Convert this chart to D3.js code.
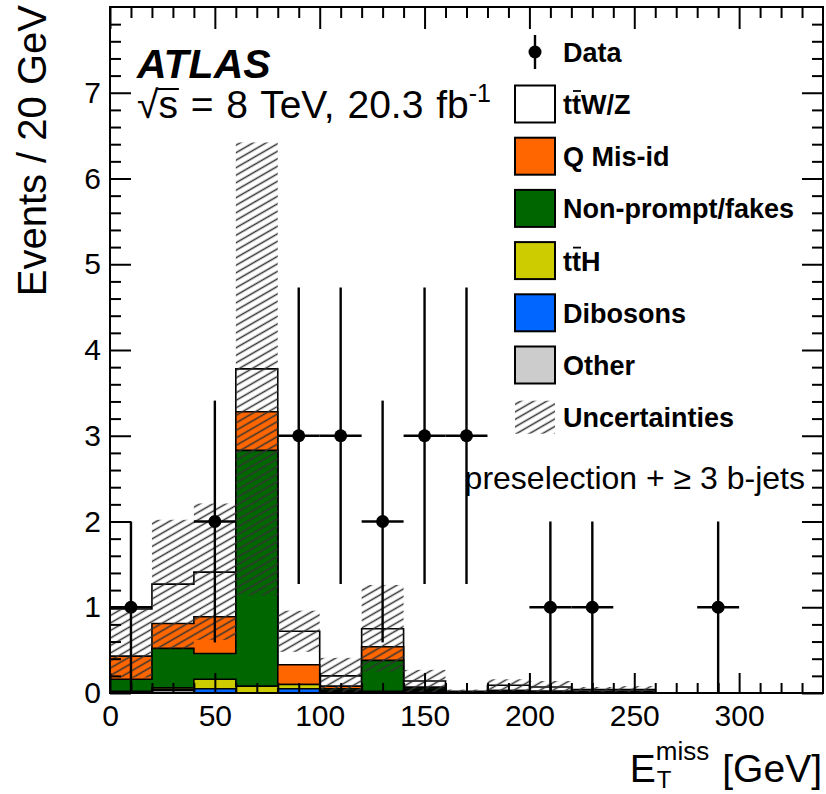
<!DOCTYPE html>
<html><head><meta charset="utf-8">
<script src="https://cdn.jsdelivr.net/npm/d3@7"></script>
<style>
body{margin:0;background:#fff;}
svg text{font-family:"Liberation Sans",Arial,Helvetica,sans-serif;fill:#000;}
</style></head><body>
<svg id="chart" width="826" height="794"></svg>
<script>
// E_T^miss distribution, 20 GeV bins (lower edges)
const binLow = [0,20,40,60,80,100,120,140,160,180,200,220,240,260,280,300,320];
const binWidth = 20;

// Expected events per bin, by process (stacked bottom to top)
const other     = [0.01,0.03,0.00,0.00,0.00,0.02,0.01,0.02,0.01,0.01,0.01,0.01,0.01,0,0,0,0];
const dibosons  = [0.00,0.01,0.05,0.00,0.05,0.00,0.00,0.01,0.00,0.00,0.00,0.00,0.00,0,0,0,0];
const ttH       = [0.01,0.02,0.11,0.08,0.05,0.01,0.01,0.01,0.00,0.00,0.00,0.00,0.00,0,0,0,0];
const nonPrompt = [0.14,0.46,0.30,2.75,0.00,0.02,0.36,0.02,0.00,0.02,0.01,0.01,0.01,0,0,0,0];
const qMisId    = [0.27,0.29,0.43,0.45,0.23,0.03,0.16,0.01,0.00,0.00,0.00,0.00,0.00,0,0,0,0];
const ttWZ      = [0.55,0.46,0.52,0.50,0.39,0.12,0.21,0.07,0.01,0.06,0.05,0.02,0.02,0,0,0,0];

// Total uncertainty band (lower / upper edge)
const bandLow  = [0.18,0.52,0.62,1.14,0.48,0.00,0.25,0.01,0.00,0.02,0.00,0.00,0.00,0,0,0,0];
const bandHigh = [0.98,2.02,2.21,6.42,0.96,0.41,1.26,0.27,0.04,0.16,0.14,0.07,0.08,0,0,0,0];

// Observed events and their statistical errors
const dataCounts = [1,0,2,0,3,3,2,3,3,0,1,1,0,0,1,0,0];
const dataErr    = [1,0,1.41,0,1.73,1.73,1.41,1.73,1.73,0,1,1,0,0,1,0,0];

// Axis ticks
const xMajorTicks = [0,50,100,150,200,250,300];
const xMinorTicks = [10,20,30,40,60,70,80,90,110,120,130,140,160,170,180,190,210,220,230,240,260,270,280,290,310,320,330];
const yMajorTicks = [0,1,2,3,4,5,6,7];
const yMinorTicks = [0.2,0.4,0.6,0.8,1.2,1.4,1.6,1.8,2.2,2.4,2.6,2.8,3.2,3.4,3.6,3.8,4.2,4.4,4.6,4.8,5.2,5.4,5.6,5.8,6.2,6.4,6.6,6.8,7.2,7.4,7.6,7.8];

const layers = [
  {name:"Other",            values:other,     color:"#cccccc"},
  {name:"Dibosons",         values:dibosons,  color:"#0066ff"},
  {name:"ttH",              values:ttH,       color:"#cccc00"},
  {name:"Non-prompt/fakes", values:nonPrompt, color:"#006600"},
  {name:"Q Mis-id",         values:qMisId,    color:"#ff6600"},
  {name:"ttW/Z",            values:ttWZ,      color:"#ffffff"}
];

const svg = d3.select("#chart");
const plot = {left:110, right:823, top:7, bottom:693};
const x = d3.scaleLinear().domain([0,340]).range([plot.left, plot.right]);
const y = d3.scaleLinear().domain([0,8]).range([plot.bottom, plot.top]);

// hatch pattern for the uncertainty band
const defs = svg.append("defs");
const pat = defs.append("pattern").attr("id","hatch")
  .attr("patternUnits","userSpaceOnUse").attr("width",10).attr("height",6.5)
  .attr("patternTransform","rotate(-30)");
pat.append("line").attr("x1",0).attr("x2",10).attr("y1",3.25).attr("y2",3.25)
  .attr("stroke","#333").attr("stroke-width",1.5);

// cumulative stack
let running = binLow.map(()=>0);
const cumulative = layers.map(l => {
  running = running.map((v,i)=>v + l.values[i]);
  return running.slice();
});

function stepPath(vals){
  let p = `M${x(0)},${y(0)}`;
  vals.forEach((v,i)=>{
    p += `L${x(binLow[i])},${y(v)}L${x(binLow[i]+binWidth)},${y(v)}`;
  });
  p += `L${x(340)},${y(0)}Z`;
  return p;
}

const gStack = svg.append("g");
for (let k = layers.length-1; k >= 0; k--) {
  gStack.append("path").attr("d", stepPath(cumulative[k]))
    .attr("fill", layers[k].color).attr("stroke","#000").attr("stroke-width",1.6)
    .attr("stroke-linejoin","miter");
}

// uncertainty band
svg.append("g").selectAll("rect").data(binLow.map((b,i)=>({b,lo:bandLow[i],hi:bandHigh[i]})).filter(d=>d.hi>d.lo))
  .join("rect")
  .attr("x",d=>x(d.b)).attr("width",d=>x(d.b+binWidth)-x(d.b))
  .attr("y",d=>y(d.hi)).attr("height",d=>y(d.lo)-y(d.hi))
  .attr("fill","url(#hatch)");

// data points
const pts = binLow.map((b,i)=>({b,c:dataCounts[i],e:dataErr[i]})).filter(d=>d.c>0);
const gData = svg.append("g").attr("stroke","#000").attr("stroke-width",2.4);
pts.forEach(d=>{
  const cx = x(d.b + binWidth/2);
  gData.append("line").attr("x1",cx).attr("x2",cx).attr("y1",y(d.c+d.e)).attr("y2",y(Math.max(0,d.c-d.e)));
  gData.append("line").attr("x1",x(d.b)).attr("x2",x(d.b+binWidth)).attr("y1",y(d.c)).attr("y2",y(d.c));
  gData.append("circle").attr("cx",cx).attr("cy",y(d.c)).attr("r",6.5).attr("fill","#000").attr("stroke","none");
});

// axes with inward ticks on all sides
function styleAxis(g){
  g.select(".domain").remove();
  g.selectAll(".tick line").attr("stroke","#000").attr("stroke-width",2);
  g.selectAll(".tick text").attr("font-size",30).attr("fill","#000")
    .style("font-family",'"Liberation Sans",Arial,Helvetica,sans-serif');
}
const axB = svg.append("g").attr("transform",`translate(0,${plot.bottom})`);
axB.call(d3.axisBottom(x).tickValues(xMinorTicks).tickSize(-10).tickFormat(""));
styleAxis(axB);
const axB2 = svg.append("g").attr("transform",`translate(0,${plot.bottom})`);
axB2.call(d3.axisBottom(x).tickValues(xMajorTicks).tickSize(-20).tickPadding(12).tickSizeOuter(0).tickFormat(d3.format("d")));
styleAxis(axB2);

const axT = svg.append("g").attr("transform",`translate(0,${plot.top})`);
axT.call(d3.axisTop(x).tickValues(xMinorTicks).tickSize(-11).tickFormat(""));
styleAxis(axT);
const axT2 = svg.append("g").attr("transform",`translate(0,${plot.top})`);
axT2.call(d3.axisTop(x).tickValues(xMajorTicks).tickSize(-22).tickFormat(""));
styleAxis(axT2);

const axL = svg.append("g").attr("transform",`translate(${plot.left},0)`);
axL.call(d3.axisLeft(y).tickValues(yMinorTicks).tickSize(-11).tickFormat(""));
styleAxis(axL);
const axL2 = svg.append("g").attr("transform",`translate(${plot.left},0)`);
axL2.call(d3.axisLeft(y).tickValues(yMajorTicks).tickSize(-21).tickPadding(9).tickFormat(d3.format("d")));
styleAxis(axL2);

const axR = svg.append("g").attr("transform",`translate(${plot.right},0)`);
axR.call(d3.axisRight(y).tickValues(yMinorTicks).tickSize(-11).tickFormat(""));
styleAxis(axR);
const axR2 = svg.append("g").attr("transform",`translate(${plot.right},0)`);
axR2.call(d3.axisRight(y).tickValues(yMajorTicks).tickSize(-21).tickFormat(""));
styleAxis(axR2);

svg.append("rect").attr("x",plot.left).attr("y",plot.top)
  .attr("width",plot.right-plot.left).attr("height",plot.bottom-plot.top)
  .attr("fill","none").attr("stroke","#000").attr("stroke-width",2);

// axis titles
svg.append("text").attr("transform","translate(46,5) rotate(-90)")
  .attr("text-anchor","end").attr("font-size",40).text("Events / 20 GeV");

const xt = svg.append("g");
const gev = xt.append("text").attr("x",822).attr("y",782).attr("text-anchor","end").attr("font-size",39).text("[GeV]");
const gevStart = 822 - gev.node().getComputedTextLength();
const miss = xt.append("text").attr("font-size",26).attr("y",760).text("miss");
const missW = miss.node().getComputedTextLength();
const missX = gevStart - 13 - missW;
miss.attr("x", missX);
xt.append("text").attr("font-size",24).attr("x",missX + 1).attr("y",788).text("T");
xt.append("text").attr("font-size",39).attr("text-anchor","end").attr("x",missX).attr("y",782).text("E");

// experiment label
svg.append("text").attr("x",137).attr("y",78).attr("font-size",41)
  .attr("font-weight","bold").attr("font-style","italic").text("ATLAS");
const energy = svg.append("text").attr("x",137).attr("y",118).attr("font-size",39).attr("word-spacing",2);
energy.append("tspan").text("\u221As = 8 TeV, 20.3 fb");
energy.append("tspan").attr("font-size",25).attr("dy",-16).text("-1");
{
  const e = energy.node().getExtentOfChar(1);
  svg.append("line").attr("x1",e.x-1).attr("x2",e.x+e.width+1)
    .attr("y1",e.y+6).attr("y2",e.y+6).attr("stroke","#000").attr("stroke-width",2);
}

svg.append("text").attr("x",805).attr("y",489).attr("text-anchor","end").attr("font-size",32)
  .text("preselection + \u2265 3 b-jets");

// legend
const leg = svg.append("g");
const legX = 515, legW = 40, legH = 37, textX = 563, fs = 27;
// data entry
leg.append("line").attr("x1",535).attr("x2",535).attr("y1",35).attr("y2",69).attr("stroke","#000").attr("stroke-width",2.4);
leg.append("circle").attr("cx",535).attr("cy",52).attr("r",6.5);
leg.append("text").attr("x",textX).attr("y",62).attr("font-size",fs).attr("font-weight","bold").text("Data");

const legendEntries = [
  {label:"ttW/Z", color:"#ffffff", bar:true},
  {label:"Q Mis-id", color:"#ff6600"},
  {label:"Non-prompt/fakes", color:"#006600"},
  {label:"ttH", color:"#cccc00", bar:true},
  {label:"Dibosons", color:"#0066ff"},
  {label:"Other", color:"#cccccc"}
];
legendEntries.forEach((d,i)=>{
  const cy = 104 + i*52.2;
  leg.append("rect").attr("x",legX).attr("y",cy-legH/2).attr("width",legW).attr("height",legH)
    .attr("fill",d.color).attr("stroke","#000").attr("stroke-width",2);
  const t = leg.append("text").attr("x",textX).attr("y",cy+10).attr("font-size",fs).attr("font-weight","bold").text(d.label);
  if (d.bar) {
    const e = t.node().getExtentOfChar(1);
    leg.append("line").attr("x1",e.x+1).attr("x2",e.x+e.width).attr("y1",cy-13).attr("y2",cy-13)
      .attr("stroke","#000").attr("stroke-width",1.8);
  }
});
{
  const cy = 104 + 6*52.2;
  leg.append("rect").attr("x",legX).attr("y",cy-legH/2+2).attr("width",legW).attr("height",legH-4)
    .attr("fill","url(#hatch)");
  leg.append("text").attr("x",textX).attr("y",cy+10).attr("font-size",fs).attr("font-weight","bold").text("Uncertainties");
}
</script>
</body></html>
